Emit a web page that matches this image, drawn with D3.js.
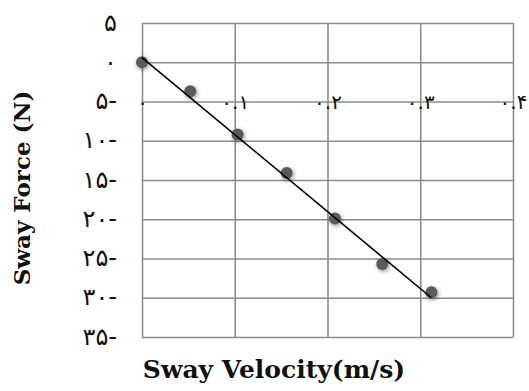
<!DOCTYPE html>
<html><head><meta charset="utf-8">
<script src="https://cdn.jsdelivr.net/npm/d3@7"></script>
<style>body{margin:0;background:#fff}svg{display:block}</style>
</head><body>
<svg id="c" width="529" height="391"></svg>
<script>
const xTicks = [0, 0.1, 0.2, 0.3, 0.4];
const xTickLabels = ["۰", "۰.۱", "۰.۲", "۰.۳", "۰.۴"];
const yTicks = [5, 0, -5, -10, -15, -20, -25, -30, -35];
const yTickLabels = ["۵", "۰", "۵-", "۱۰-", "۱۵-", "۲۰-", "۲۵-", "۳۰-", "۳۵-"];
const velocity = [0, 0.052, 0.103, 0.156, 0.208, 0.259, 0.312];
const force = [0, -3.7, -9.2, -14.1, -19.9, -25.7, -29.3];
const fitX = [0, 0.312];
const fitY = [0.6, -30];
const xTitle = "Sway Velocity(m/s)";
const yTitle = "Sway Force (N)";

const svg = d3.select("#c");
const x = d3.scaleLinear().domain([0, 0.4]).range([142, 513]);
const y = d3.scaleLinear().domain([5, -35]).range([23, 337]);

const defs = svg.append("defs");
const f = defs.append("filter").attr("id","sh").attr("x","-60%").attr("y","-60%").attr("width","220%").attr("height","220%");
f.append("feDropShadow").attr("dx",1).attr("dy",1.5).attr("stdDeviation",2).attr("flood-color","#000").attr("flood-opacity",0.45);

const grid = "#8c8c8c";
svg.append("g").attr("transform", `translate(0,${y(-35)})`)
  .call(d3.axisBottom(x).tickValues(xTicks).tickSize(-(y(-35)-y(5))).tickFormat(""))
  .call(g => g.select(".domain").remove())
  .call(g => g.selectAll("line").attr("stroke", grid).attr("stroke-width", 1.6));
svg.append("g").attr("transform", `translate(${x(0)},0)`)
  .call(d3.axisLeft(y).tickValues(yTicks).tickSize(-(x(0.4)-x(0))).tickFormat(""))
  .call(g => g.select(".domain").remove())
  .call(g => g.selectAll("line").attr("stroke", grid).attr("stroke-width", 1.6));

const labFont = "'DejaVu Sans',sans-serif";
svg.append("g").attr("transform", "translate(117,0)")
  .call(d3.axisLeft(y).tickValues(yTicks).tickSize(0).tickPadding(0)
    .tickFormat((d,i) => yTickLabels[i]))
  .call(g => g.select(".domain").remove())
  .call(g => g.selectAll("text").attr("font-family", labFont)
    .attr("font-size", 24).attr("letter-spacing", 1.5).attr("fill","#111").attr("dy","0.3em").attr("direction","ltr"));

svg.append("g").attr("transform", `translate(0,${y(-5)})`)
  .call(d3.axisBottom(x).tickValues(xTicks).tickSize(0).tickPadding(0)
    .tickFormat((d,i) => xTickLabels[i]))
  .call(g => g.select(".domain").remove())
  .call(g => g.selectAll("text").attr("font-family", labFont)
    .attr("font-size", 20).attr("letter-spacing", 1.5).attr("fill","#111").attr("y", 0).attr("dy","0.38em").attr("direction","ltr"));

svg.append("g").selectAll("circle").data(velocity).join("circle")
  .attr("cx", (d) => x(d)).attr("cy", (d,i) => y(force[i]))
  .attr("r", 6).attr("fill", "#5a5a5a").attr("filter","url(#sh)");

svg.append("path")
  .datum(fitX.map((d,i)=>[d, fitY[i]]))
  .attr("d", d3.line().x(d=>x(d[0])).y(d=>y(d[1])))
  .attr("stroke","#000").attr("stroke-width",1.6).attr("fill","none");

svg.append("text").attr("x", 274).attr("y", 378).attr("text-anchor","middle")
  .attr("font-family","'DejaVu Serif',serif").attr("font-weight","bold").attr("font-size",25)
  .attr("fill","#111").text(xTitle);
svg.append("text").attr("transform","translate(30,188) rotate(-90)").attr("text-anchor","middle")
  .attr("font-family","'DejaVu Serif',serif").attr("font-weight","bold").attr("font-size",23)
  .attr("fill","#111").text(yTitle);
</script>
</body></html>
